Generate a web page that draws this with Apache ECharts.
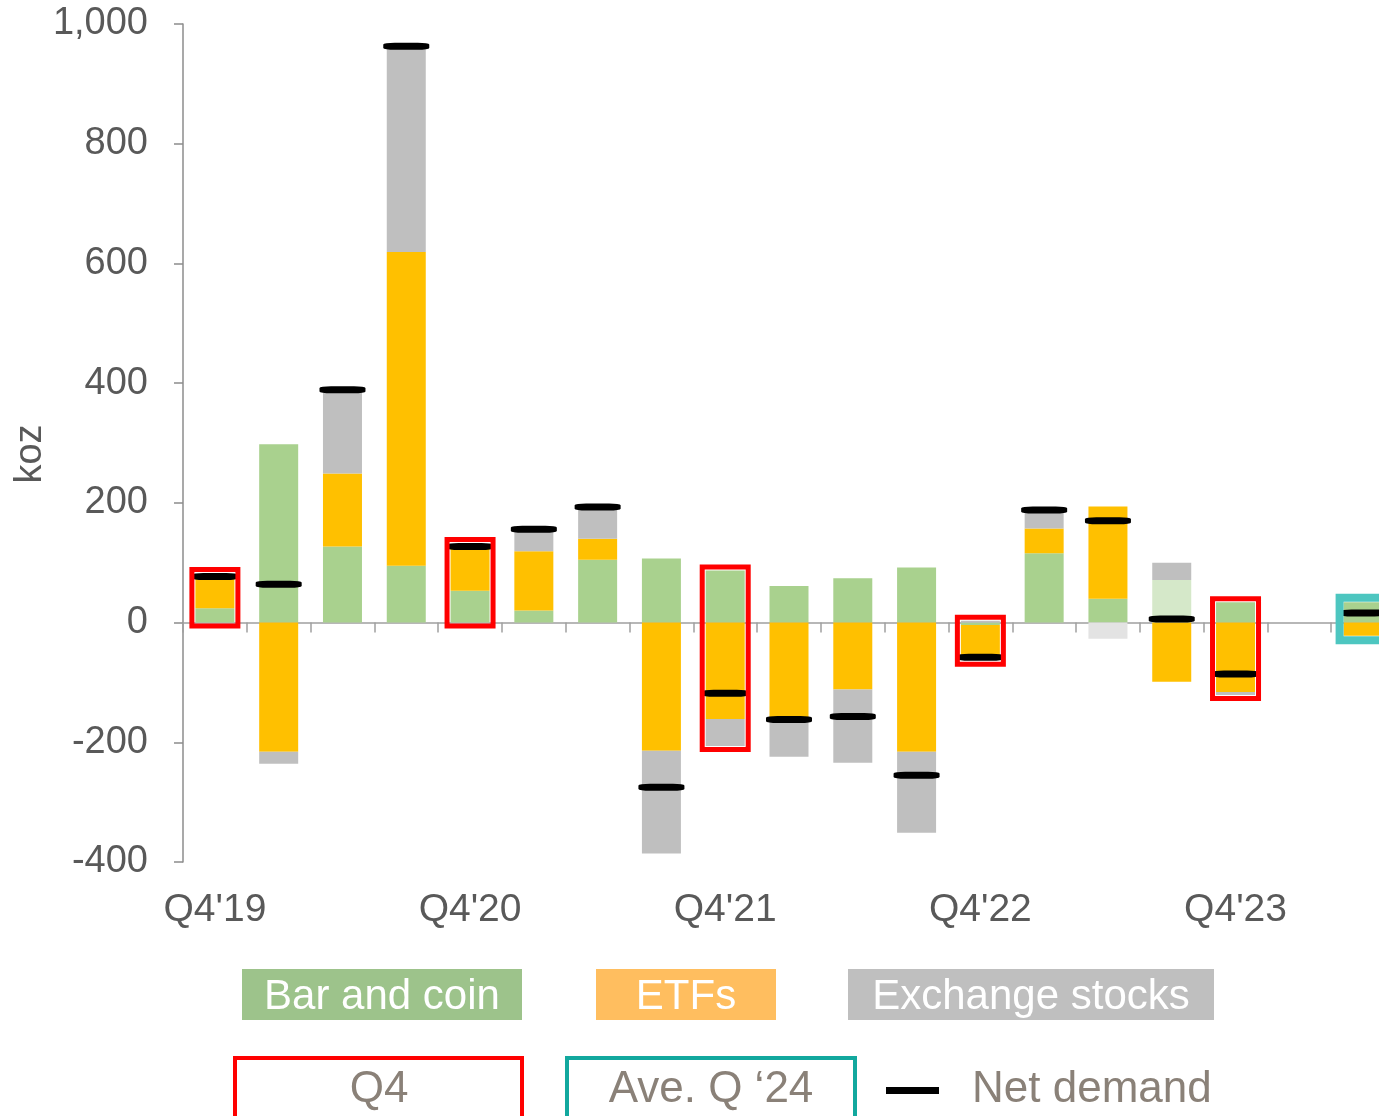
<!DOCTYPE html>
<html>
<head>
<meta charset="utf-8">
<script src="https://cdn.jsdelivr.net/npm/echarts@6/dist/echarts.min.js"></script>
<style>
  html, body { margin: 0; padding: 0; background: #fff; }
  #chart { width: 1379px; height: 1116px; }
</style>
</head>
<body>
<div id="chart"></div>
<script>
// quarters, the empty slot is Q1'24 (no bar), last one is the 2024 average
const quarters = ["Q4'19", "Q1'20", "Q2'20", "Q3'20", "Q4'20", "Q1'21", "Q2'21", "Q3'21", "Q4'21",
  "Q1'22", "Q2'22", "Q3'22", "Q4'22", "Q1'23", "Q2'23", "Q3'23", "Q4'23", "", "Ave. Q '24"];

// koz
const barCoin   = [24, 298, 127, 95, 53, 20, 105, 107, 87, 61, 74, 92, -4, 116, 40, 71, 34, null, 34];
const etfs      = [50, -216, 122, 524, 70, 99, 35, -214, -161, -159, -112, -216, -55, 41, 154, -99, -116, null, -22];
const exchange  = [0, -20, 140, 344, 2, 34, 50, -172, -45, -65, -122, -135, 3, 30, -27, 29, -5, null, 0];
const netDemand = [77, 64, 389, 963, 127, 156, 193, -275, -118, -162, -157, -255, -58, 188, 170, 6, -86, null, 16];

// bars shown in a lighter shade
const lightBarCoin = [15];
const lightExchange = [14];

// boxed quarters
const q4Index = [0, 4, 8, 12, 16];
const aveIndex = [18];

const yTicks = { min: -400, max: 1000, step: 200 };

const FONT = '"Liberation Sans", Arial, sans-serif';
const GREEN = '#a9d18e', ORANGE = '#ffc000', GRAY = '#bfbfbf';

function barData(vals, light, lightColor) {
  return vals.map((v, i) => light.indexOf(i) >= 0 ? { value: v, itemStyle: { color: lightColor } } : v);
}

function boxData() {
  const out = [];
  q4Index.concat(aveIndex).forEach((i) => {
    const parts = [barCoin[i], etfs[i], exchange[i]];
    let pos = 0, neg = 0;
    parts.forEach((p) => { if (p > 0) pos += p; else neg += p; });
    out.push([i, pos, neg, netDemand[i], aveIndex.indexOf(i) >= 0 ? 1 : 0]);
  });
  return out;
}

const chart = echarts.init(document.getElementById('chart'));

chart.setOption({
  animation: false,
  grid: { left: 183, right: -16, top: 24, bottom: 254, outerBoundsMode: 'none' },
  xAxis: [
    {
      type: 'category',
      data: quarters,
      position: 'bottom',
      axisLine: { onZero: true, lineStyle: { color: '#a0a0a0', width: 1.5 } },
      axisTick: { show: true, length: 10, interval: 0, lineStyle: { color: '#a0a0a0', width: 1.5 } },
      axisLabel: { show: false },
      splitLine: { show: false }
    },
    {
      type: 'category',
      data: quarters,
      position: 'bottom',
      axisLine: { show: false, onZero: false },
      axisTick: { show: false },
      axisLabel: {
        interval: (i) => i % 4 === 0 && i <= 16,
        fontSize: 39,
        fontFamily: FONT,
        color: '#595959',
        margin: 29
      },
      splitLine: { show: false }
    }
  ],
  yAxis: {
    type: 'value',
    min: yTicks.min,
    max: yTicks.max,
    interval: yTicks.step,
    axisLine: { show: true, lineStyle: { color: '#8c8c8c', width: 1.5 } },
    axisTick: { show: true, length: 9, lineStyle: { color: '#8c8c8c', width: 1.5 } },
    axisLabel: {
      fontSize: 38,
      fontFamily: FONT,
      color: '#595959',
      margin: 35,
      formatter: (v) => v.toLocaleString('en-US')
    },
    splitLine: { show: false }
  },
  series: [
    {
      name: 'Bar and coin', type: 'bar', stack: 'demand', barWidth: 39,
      itemStyle: { color: GREEN },
      data: barData(barCoin, lightBarCoin, '#d5e8c9')
    },
    {
      name: 'ETFs', type: 'bar', stack: 'demand', barWidth: 39,
      itemStyle: { color: ORANGE },
      data: etfs
    },
    {
      name: 'Exchange stocks', type: 'bar', stack: 'demand', barWidth: 39,
      itemStyle: { color: GRAY },
      data: barData(exchange, lightExchange, '#e3e3e3')
    },
    {
      name: 'Net demand', type: 'scatter', z: 4,
      symbol: 'roundRect', symbolSize: [46, 7],
      itemStyle: { color: '#000', opacity: 1 },
      data: netDemand
    },
    {
      // outline boxes round the Q4 bars and the 2024 average
      type: 'custom', z: 5,
      data: boxData(),
      renderItem: function (params, api) {
        const i = api.value(0);
        const top = api.coord([i, api.value(1)]);
        const bot = api.coord([i, api.value(2)]);
        const net = api.coord([i, api.value(3)]);
        const isAve = api.value(4) === 1;
        const lw = isAve ? 8 : 5;
        const pad = isAve ? 4.5 : 3.5;
        const half = isAve ? 23.5 : 23;
        const y0 = Math.min(top[1], net[1] - 3.5) - pad;
        const y1 = Math.max(bot[1], net[1] + 3.5) + pad;
        return {
          type: 'rect',
          shape: { x: top[0] - half, y: y0, width: half * 2, height: y1 - y0 },
          style: { fill: 'none', stroke: isAve ? '#4dc6c0' : '#ff0000', lineWidth: lw }
        };
      }
    }
  ],
  graphic: [
    {
      type: 'text', x: 31, y: 454, rotation: Math.PI / 2,
      style: { text: 'koz', font: '38px ' + FONT, fill: '#595959', align: 'center', verticalAlign: 'middle' }
    },
    // legend, first row
    { type: 'rect', shape: { x: 242, y: 969, width: 280, height: 51 }, style: { fill: '#9dc38b' } },
    { type: 'text', x: 382, y: 997, style: { text: 'Bar and coin', font: '42px ' + FONT, fill: '#fff', align: 'center', verticalAlign: 'middle' } },
    { type: 'rect', shape: { x: 596, y: 969, width: 180, height: 51 }, style: { fill: '#ffbe5f' } },
    { type: 'text', x: 686, y: 997, style: { text: 'ETFs', font: '42px ' + FONT, fill: '#fff', align: 'center', verticalAlign: 'middle' } },
    { type: 'rect', shape: { x: 848, y: 969, width: 366, height: 51 }, style: { fill: '#bfbfbf' } },
    { type: 'text', x: 1031, y: 997, style: { text: 'Exchange stocks', font: '42px ' + FONT, fill: '#fff', align: 'center', verticalAlign: 'middle' } },
    // legend, second row
    { type: 'rect', shape: { x: 235, y: 1058, width: 287, height: 80 }, style: { fill: 'none', stroke: '#ff0000', lineWidth: 4 } },
    { type: 'text', x: 379, y: 1090, style: { text: 'Q4', font: '44px ' + FONT, fill: '#8a8178', align: 'center', verticalAlign: 'middle' } },
    { type: 'rect', shape: { x: 567, y: 1058, width: 288, height: 80 }, style: { fill: 'none', stroke: '#12a89e', lineWidth: 4 } },
    { type: 'text', x: 711, y: 1090, style: { text: 'Ave. Q \u201824', font: '44px ' + FONT, fill: '#8a8178', align: 'center', verticalAlign: 'middle' } },
    { type: 'rect', shape: { x: 886, y: 1087, width: 53, height: 7 }, style: { fill: '#000' } },
    { type: 'text', x: 972, y: 1090, style: { text: 'Net demand', font: '44px ' + FONT, fill: '#8a8178', align: 'left', verticalAlign: 'middle' } }
  ]
});
</script>
</body>
</html>
